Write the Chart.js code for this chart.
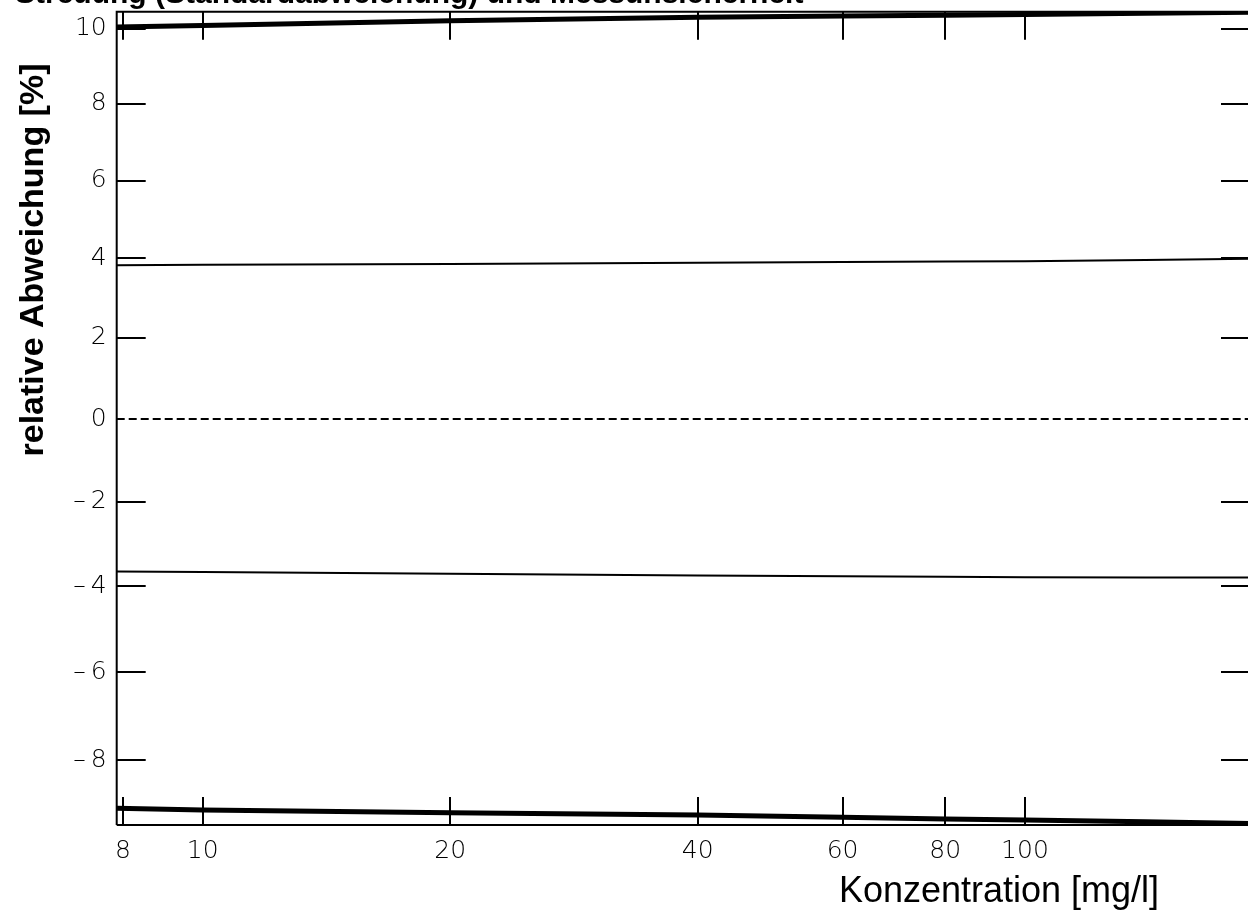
<!DOCTYPE html>
<html lang="de">
<head>
<meta charset="utf-8">
<title>Streuung und relative Abweichung</title>
<script src="https://cdn.jsdelivr.net/npm/chart.js@4.4.1/dist/chart.umd.min.js"></script>
<style>
  html, body { margin: 0; padding: 0; background: #ffffff; overflow: hidden; }
  #wrap { position: relative; width: 1252px; height: 923px; }
</style>
</head>
<body>
<div id="wrap"><canvas id="chart"></canvas></div>
<script>
// Konzentrationen (mg/l), an denen die Kurven angegeben sind
const concentrations = [7.86, 10, 20, 40, 60, 80, 100, 140, 187.8];
// relative Abweichung in %
const upperLimit  = [10.05, 10.09, 10.22, 10.31, 10.35, 10.37, 10.39, 10.42, 10.45];
const upperSpread = [3.83, 3.84, 3.86, 3.89, 3.91, 3.92, 3.93, 3.96, 3.99];
const zeroLine    = [0, 0, 0, 0, 0, 0, 0, 0, 0];
const lowerSpread = [-3.66, -3.67, -3.71, -3.75, -3.77, -3.78, -3.79, -3.80, -3.80];
const lowerLimit  = [-9.07, -9.11, -9.17, -9.22, -9.27, -9.31, -9.33, -9.37, -9.41];

// Achsenbeschriftung
const xTickValues = [8, 10, 20, 40, 60, 80, 100];
const yTickValues = [-8, -6, -4, -2, 0, 2, 4, 6, 8, 10];

const titleText = 'Streuung (Standardabweichung) und Messunsicherheit';
const yTitle = 'relative Abweichung [%]';
const xTitle = 'Konzentration [mg/l]';

// Die y-Achse ist logarithmisch im Verhältnis (100 + Abweichung) / 100
const toRatio = v => 100 + v;

function series(values, width, dash) {
  return {
    data: concentrations.map((x, i) => ({ x: x, y: toRatio(values[i]) })),
    borderColor: '#000000',
    borderWidth: width,
    borderDash: dash || [],
    pointRadius: 0,
    tension: 0,
    fill: false
  };
}

const tickFont = { family: "'DejaVu Sans', 'Liberation Sans', sans-serif", size: 25, weight: 200 };

function yLabel(v) {
  if (v < 0) return '\u2013\u2009' + Math.abs(v);
  return String(v);
}

// Rahmen, nach innen zeigende Teilstriche und Beschriftungstexte
const framePlugin = {
  id: 'frame',
  afterDraw(chart) {
    const { ctx, chartArea: a, scales } = chart;
    const xs = scales.x, ys = scales.y;
    ctx.save();
    ctx.strokeStyle = '#000000';
    ctx.lineWidth = 2;
    ctx.beginPath();
    ctx.moveTo(a.left, a.bottom); ctx.lineTo(a.left, a.top);
    ctx.lineTo(a.right, a.top); ctx.lineTo(a.right, a.bottom);
    ctx.lineTo(a.left, a.bottom);
    ctx.stroke();

    const tl = 28;
    ctx.beginPath();
    xTickValues.forEach(v => {
      const px = Math.round(xs.getPixelForValue(v));
      ctx.moveTo(px, a.bottom); ctx.lineTo(px, a.bottom - tl);
      ctx.moveTo(px, a.top); ctx.lineTo(px, a.top + tl);
    });
    yTickValues.filter(v => v !== 0).forEach(v => {
      const py = Math.round(ys.getPixelForValue(toRatio(v)));
      ctx.moveTo(a.left, py); ctx.lineTo(a.left + tl + 1, py);
      ctx.moveTo(a.right, py); ctx.lineTo(a.right - tl - 1, py);
    });
    ctx.stroke();

    ctx.fillStyle = '#000000';
    // Titel
    ctx.font = "bold 30px 'Liberation Sans', Arial, sans-serif";
    ctx.textAlign = 'left';
    ctx.textBaseline = 'alphabetic';
    ctx.fillText(titleText, 15, 2.5);

    // y-Achsentitel
    ctx.save();
    ctx.translate(43, 260);
    ctx.rotate(-Math.PI / 2);
    ctx.font = "bold 34px 'Liberation Sans', Arial, sans-serif";
    ctx.textAlign = 'center';
    ctx.fillText(yTitle, 0, 0);
    ctx.restore();

    // x-Achsentitel
    ctx.font = "36px 'Liberation Sans', Arial, sans-serif";
    ctx.textAlign = 'center';
    ctx.fillText(xTitle, 999, 902);
    ctx.restore();
  }
};

new Chart(document.getElementById('chart'), {
  type: 'line',
  data: {
    datasets: [
      series(upperLimit, 5),
      series(upperSpread, 2),
      series(zeroLine, 2, [8, 4]),
      series(lowerSpread, 2),
      series(lowerLimit, 5)
    ]
  },
  options: {
    responsive: true,
    maintainAspectRatio: false,
    animation: false,
    events: [],
    layout: { padding: { top: 11.7, left: 0, right: 2, bottom: 0 } },
    plugins: { legend: { display: false }, tooltip: { enabled: false }, title: { display: false } },
    scales: {
      x: {
        type: 'logarithmic',
        position: 'bottom',
        min: 7.86,
        max: 187.8,
        bounds: 'data',
        grid: { display: false, drawTicks: false },
        border: { display: false },
        ticks: {
          color: '#000000',
          font: tickFont,
          padding: 11,
          maxRotation: 0,
          autoSkip: false,
          callback: v => String(v)
        },
        afterBuildTicks: s => { s.ticks = xTickValues.map(v => ({ value: v })); },
        afterFit: s => { s.height = 98; s.paddingLeft = 0; s.paddingRight = 0; }
      },
      y: {
        type: 'logarithmic',
        position: 'left',
        min: 90.557,
        max: 110.463,
        bounds: 'data',
        grid: { display: false, drawTicks: false },
        border: { display: false },
        ticks: {
          color: '#000000',
          font: tickFont,
          padding: 10,
          autoSkip: false,
          callback: v => yLabel(Math.round(v - 100))
        },
        afterBuildTicks: s => { s.ticks = yTickValues.map(v => ({ value: toRatio(v) })); },
        afterFit: s => { s.width = 116.7; s.paddingTop = 0; s.paddingBottom = 0; }
      }
    }
  },
  plugins: [framePlugin]
});
</script>
</body>
</html>
